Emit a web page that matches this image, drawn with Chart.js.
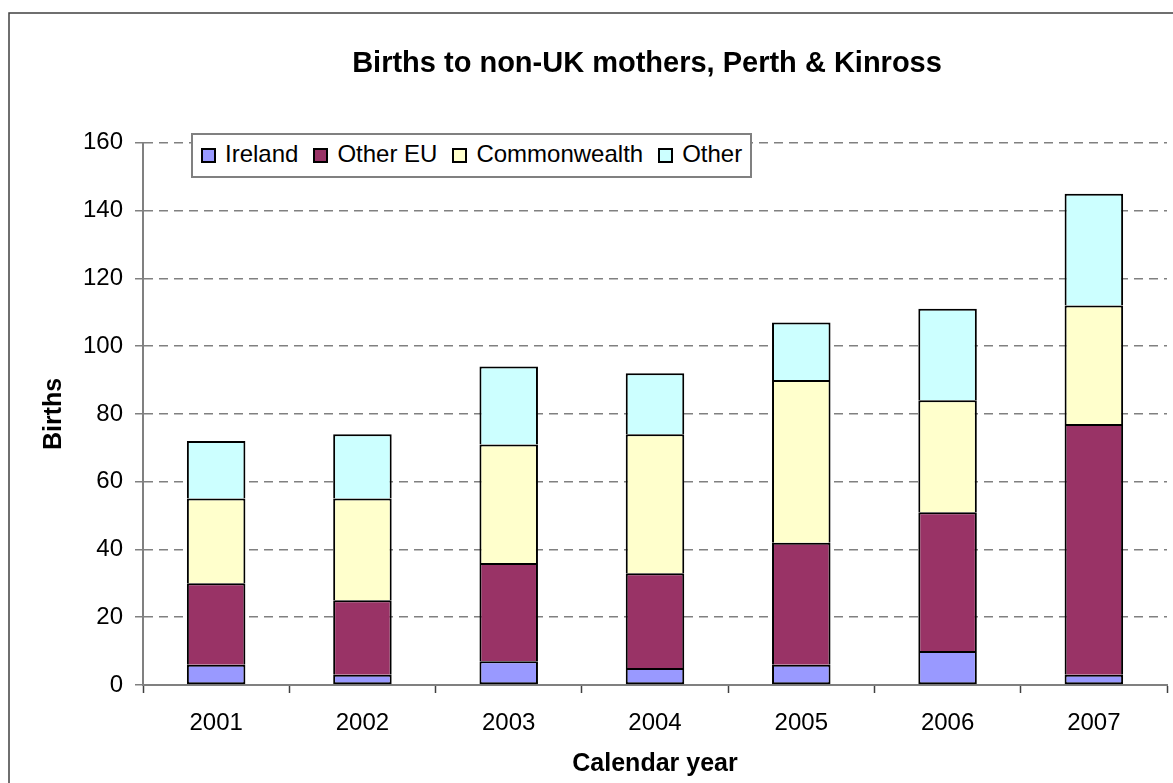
<!DOCTYPE html>
<html lang="en">
<head>
<meta charset="utf-8" />
<title>Births to non-UK mothers, Perth &amp; Kinross</title>
<script src="https://cdn.jsdelivr.net/npm/chart.js@4/dist/chart.umd.min.js"></script>
<style>
  html, body {
    margin: 0;
    padding: 0;
    background: #ffffff;
  }
  .chart-wrap {
    position: relative;
    width: 1173px;
    height: 783px;
    overflow: hidden;
  }
  .legend-box {
    position: absolute;
    left: 191px;
    top: 133px;
    height: 41px;
    padding: 0 8px;
    border: 2px solid #808080;
    background: #ffffff;
    display: flex;
    align-items: center;
    font-family: "Liberation Sans", Arial, sans-serif;
    font-size: 24px;
    color: #000000;
    white-space: nowrap;
  }
  .legend-item {
    display: flex;
    align-items: center;
    margin-right: 15px;
  }
  .legend-item:last-child {
    margin-right: 0;
  }
  .legend-swatch {
    width: 11px;
    height: 11px;
    border: 2px solid #000000;
    margin-right: 9px;
  }
  .legend-label {
    position: relative;
    top: -2px;
  }
</style>
</head>
<body>
<div class="chart-wrap">
  <canvas id="birthsChart" width="1173" height="783"></canvas>
  <div class="legend-box" id="legendBox"></div>
</div>
<script>
const years = ["2001", "2002", "2003", "2004", "2005", "2006", "2007"];
const seriesNames = ["Ireland", "Other EU", "Commonwealth", "Other"];
const seriesColors = ["#9999ff", "#993366", "#ffffcc", "#ccffff"];

const ireland = [6, 3, 7, 5, 6, 10, 3];
const otherEu = [24, 22, 29, 28, 36, 41, 74];
const commonwealth = [25, 30, 35, 41, 48, 33, 35];
const other = [17, 19, 23, 18, 17, 27, 33];

const yTicks = [0, 20, 40, 60, 80, 100, 120, 140, 160];

const FONT = "'Liberation Sans', Arial, sans-serif";

// frame line round the whole chart (only top/left show in the picture)
const outerFrame = {
  id: "outerFrame",
  beforeDraw(chart) {
    const ctx = chart.ctx;
    ctx.save();
    ctx.strokeStyle = "#404040";
    ctx.lineWidth = 1.5;
    ctx.beginPath();
    ctx.moveTo(9, chart.height + 10);
    ctx.lineTo(9, 13);
    ctx.lineTo(chart.width + 10, 13);
    ctx.stroke();
    ctx.restore();
  },
};

// keep the title centred over the plot area, like the original
const titleOverPlot = {
  id: "titleOverPlot",
  afterLayout(chart) {
    if (!chart.titleBlock) return;
    chart.titleBlock.left = chart.chartArea.left - 8;
    chart.titleBlock.right = chart.chartArea.right - 8;
  },
};

document.addEventListener("DOMContentLoaded", () => {
  renderLegend();
  renderChart();
});

function renderLegend() {
  const box = document.getElementById("legendBox");
  box.innerHTML = seriesNames
    .map(
      (name, i) => `
      <div class="legend-item">
        <span class="legend-swatch" style="background:${seriesColors[i]}"></span>
        <span class="legend-label">${name}</span>
      </div>`
    )
    .join("");
}

function makeDataset(label, data, index) {
  const first = index === 0;
  return {
    label: label,
    data: data,
    backgroundColor: seriesColors[index],
    borderColor: "#000000",
    borderWidth: first
      ? { top: 2, left: 2, right: 2, bottom: 2 }
      : { top: 2, left: 2, right: 2, bottom: 0 },
    borderSkipped: false,
    barPercentage: 0.4,
    categoryPercentage: 1.0,
  };
}

function renderChart() {
  const canvas = document.getElementById("birthsChart");

  new Chart(canvas, {
    type: "bar",
    data: {
      labels: years,
      datasets: [
        makeDataset(seriesNames[0], ireland, 0),
        makeDataset(seriesNames[1], otherEu, 1),
        makeDataset(seriesNames[2], commonwealth, 2),
        makeDataset(seriesNames[3], other, 3),
      ],
    },
    options: {
      responsive: false,
      animation: false,
      layout: {
        padding: { left: 0, right: 6, top: 0, bottom: 0 },
      },
      plugins: {
        legend: { display: false },
        tooltip: { enabled: false },
        title: {
          display: true,
          text: "Births to non-UK mothers, Perth & Kinross",
          color: "#000000",
          font: { family: FONT, size: 29, weight: "bold" },
          padding: { top: 47, bottom: 61 },
        },
      },
      scales: {
        x: {
          stacked: true,
          offset: true,
          afterFit: (scale) => {
            scale.height = 98;
          },
          grid: {
            display: true,
            drawOnChartArea: false,
            drawTicks: true,
            offset: true,
            tickLength: 8,
            tickColor: "#404040",
            tickWidth: 1.5,
          },
          border: { display: true, color: "#808080", width: 2 },
          ticks: {
            color: "#000000",
            padding: 16,
            font: { family: FONT, size: 24 },
          },
          title: {
            display: true,
            text: "Calendar year",
            color: "#000000",
            font: { family: FONT, size: 25, weight: "bold" },
            padding: { top: 0, bottom: 4 },
          },
        },
        y: {
          stacked: true,
          min: 0,
          max: 160,
          afterFit: (scale) => {
            scale.width = 143;
          },
          afterBuildTicks: (scale) => {
            scale.ticks = yTicks.map((v) => ({ value: v }));
          },
          grid: {
            color: "#808080",
            lineWidth: 1.5,
            tickLength: 8,
            tickColor: "#808080",
            tickWidth: 1.5,
            tickBorderDash: [],
          },
          border: { display: true, color: "#808080", width: 2, dash: [9, 6] },
          ticks: {
            color: "#000000",
            padding: 12,
            font: { family: FONT, size: 24 },
          },
          title: {
            display: true,
            text: "Births",
            color: "#000000",
            font: { family: FONT, size: 25, weight: "bold" },
            padding: { top: 39, bottom: 0 },
          },
        },
      },
    },
    plugins: [outerFrame, titleOverPlot],
  });
}
</script>
</body>
</html>
